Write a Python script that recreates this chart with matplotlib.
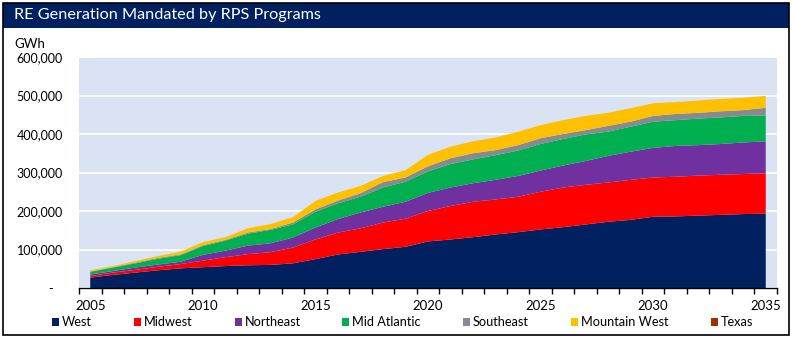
import numpy as np
import matplotlib.pyplot as plt
from matplotlib.patches import Rectangle
from matplotlib.ticker import FuncFormatter, FixedLocator

years = list(range(2005, 2036))

# GWh (thousands)
west = [27, 34, 40, 46, 51, 54, 57, 59, 60, 64, 75, 87, 94, 101, 107, 121,
        126, 132, 139, 145, 152, 158, 165, 172, 177, 185, 186, 188, 190, 192, 193]
midwest = [4, 6, 7, 9, 11, 17, 23, 29, 33, 41, 51, 57, 61, 69, 73, 79,
           87, 92, 91, 92, 98, 103, 103, 102, 104, 102, 103, 104, 104, 104, 105]
northeast = [4, 4, 6, 6, 6, 15, 17, 22, 23, 26, 31, 35, 41, 41, 44, 47,
             48, 48, 51, 54, 55, 57, 62, 69, 73, 77, 80, 79, 80, 82, 83]
mid_atlantic = [7, 9, 11, 15, 17, 23, 26, 31, 35, 34, 41, 41, 41, 50, 52, 56,
                61, 62, 64, 66, 69, 69, 69, 63, 65, 68, 67, 69, 69, 69, 67]
southeast = [1, 1, 2, 2, 2, 2, 2, 3, 2, 5, 6, 7, 9, 14, 11, 13,
             15, 16, 13, 14, 15, 13, 11, 15, 13, 15, 16, 15, 16, 15, 20]
mountain_west = [3, 3, 4, 5, 7, 8, 7, 11, 13, 14, 22, 21, 19, 16, 19, 30,
                 30, 31, 33, 35, 34, 36, 37, 34, 35, 33, 31, 32, 32, 32, 31]
texas = [0] * 31

names = ['West', 'Midwest', 'Northeast', 'Mid Atlantic', 'Southeast', 'Mountain West', 'Texas']
colors = ['#002060', '#FF0000', '#7030A0', '#00B050', '#878A90', '#FFC000', '#9C3300']
series = [west, midwest, northeast, mid_atlantic, southeast, mountain_west, texas]
series = [np.array(s) * 1000 for s in series]

plt.rcParams['font.family'] = ['Lato', 'DejaVu Sans']

W, H = 793, 340
fig = plt.figure(figsize=(W / 100, H / 100), dpi=100)

# title bar and frame
fig.patches.append(Rectangle((3 / W, 1 - 28 / H), 786 / W, 25 / H, transform=fig.transFigure,
                             facecolor='#002060', edgecolor='none', zorder=0))
fig.patches.append(Rectangle((3 / W, 1 - 335 / H), 786 / W, 332 / H, transform=fig.transFigure,
                             facecolor='none', edgecolor='black', lw=1.2, zorder=5))
fig.text(14 / W, 1 - 15.5 / H, 'RE Generation Mandated by RPS Programs', color='white',
         fontsize=11.7, va='center', ha='left')
fig.text(14 / W, 1 - 44 / H, 'GWh', fontsize=9.5, va='center', ha='left')

ax = fig.add_axes([79 / W, 1 - 288 / H, 698 / W, 231 / H])
ax.set_facecolor('#DAE3F3')
ax.stackplot(years, *series, colors=colors, lw=0)

ax.set_xlim(2004.5, 2035.5)
ax.set_ylim(0, 600000)
ax.set_yticks(np.arange(0, 600001, 100000))
ax.yaxis.set_major_formatter(FuncFormatter(lambda v, p: '-   ' if v == 0 else f'{int(v):,}'))
ax.grid(axis='y', color='white', lw=1.2)
ax.set_axisbelow(True)

ax.set_xticks(range(2005, 2036, 5))
ax.xaxis.set_minor_locator(FixedLocator(np.arange(2004.5, 2036, 1)))
ax.tick_params(axis='x', which='major', length=0, pad=9, labelsize=9.5)
ax.tick_params(axis='x', which='minor', length=4, width=1, direction='out', color='black')
ax.tick_params(axis='y', length=0, pad=11.5, labelsize=9)

for side in ['left', 'right', 'top']:
    ax.spines[side].set_visible(False)
ax.spines['bottom'].set_color('black')
ax.spines['bottom'].set_linewidth(1)

# legend laid out like the original
leg_x = [52, 134, 235, 342, 463, 571, 711]
leg_y = 1 - 322 / H
for name, c, x in zip(names, colors, leg_x):
    fig.patches.append(Rectangle((x / W, leg_y - 4 / H), 7 / W, 8 / H, transform=fig.transFigure,
                                 facecolor=c, edgecolor='none'))
    fig.text((x + 10) / W, leg_y, name, fontsize=9.2, va='center', ha='left')

fig.savefig('out.png', dpi=100)
